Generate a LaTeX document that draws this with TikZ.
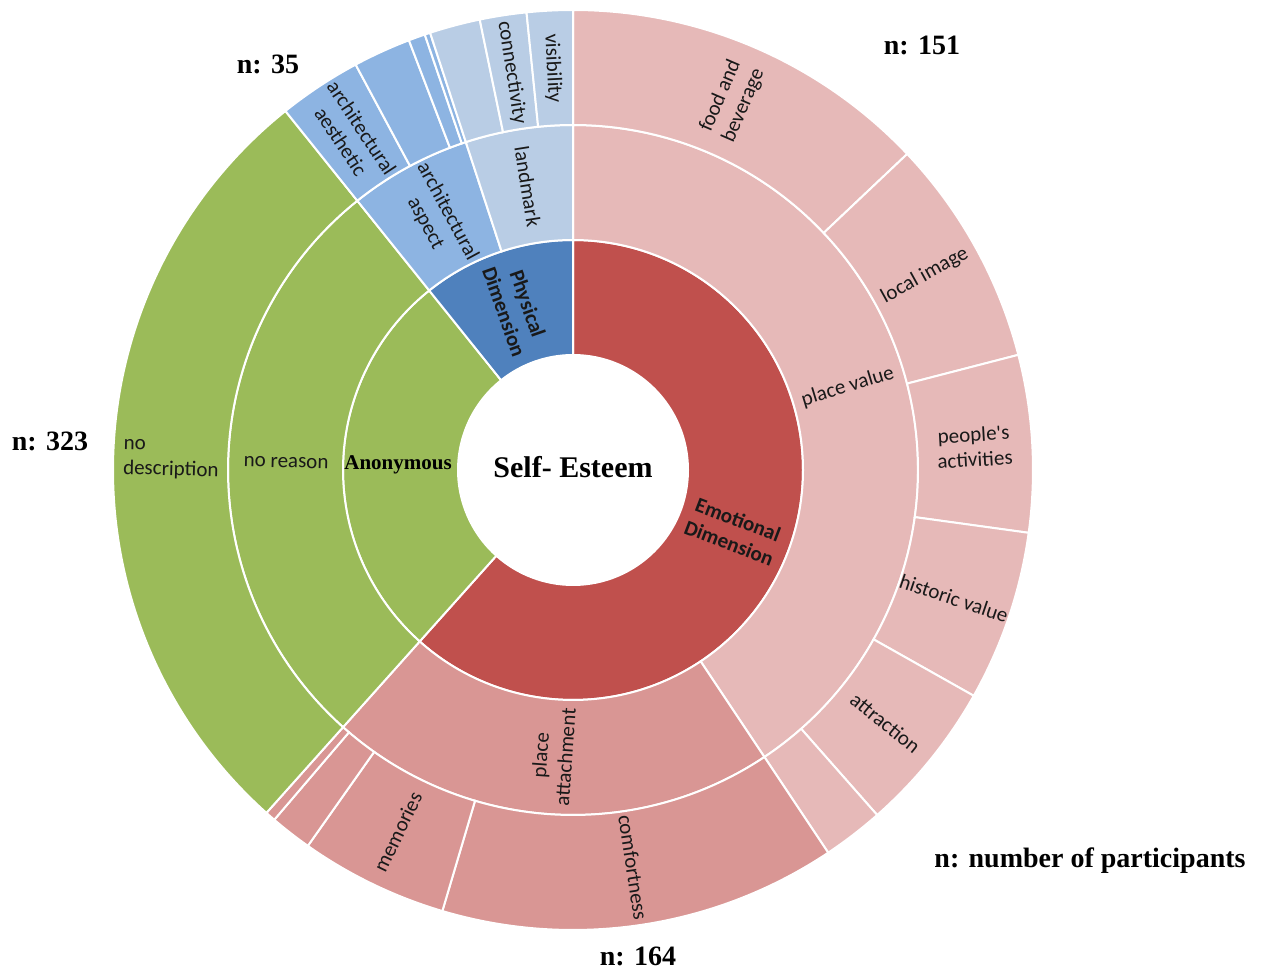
\documentclass[tikz,border=0pt]{standalone}
\usepackage{fontspec}
\setmainfont{Liberation Serif}
\newfontfamily\calibri{Carlito}

\definecolor{emo}{HTML}{C0504D}
\definecolor{pval}{HTML}{E6B9B8}
\definecolor{patt}{HTML}{D99694}
\definecolor{anon}{HTML}{9BBB59}
\definecolor{phys}{HTML}{4F81BD}
\definecolor{arch}{HTML}{8DB4E2}
\definecolor{lmark}{HTML}{B9CDE5}

% ring segment: start angle, end angle, inner radius, outer radius, colour
\newcommand\sunseg[5]{%
  \fill[#5, draw=white, line width=2pt]
    (#1:#3) arc[start angle=#1, end angle=#2, radius=#3]
    -- (#2:#4) arc[start angle=#2, end angle=#1, radius=#4] -- cycle;}

\tikzset{
  seglabel/.style={font=\calibri\fontsize{21}{25}\selectfont, align=center, inner sep=0pt, text=black!90},
  segbold/.style={seglabel, font=\calibri\bfseries\fontsize{21}{25}\selectfont},
  countlabel/.style={font=\bfseries\fontsize{28}{32}\selectfont, inner sep=0pt},
}

\begin{document}
\begin{tikzpicture}[x=1pt,y=1pt]
\useasboundingbox (0,0) rectangle (1269,970);
\fill[white] (0,0) rectangle (1269,970);

\begin{scope}[shift={(573,500)}]
% inner ring: dimensions
\sunseg{90}{-131.8}{115pt}{230pt}{emo}
\sunseg{128.7}{228.2}{115pt}{230pt}{anon}
\sunseg{90}{128.7}{115pt}{230pt}{phys}
% middle ring
\sunseg{90}{-56.3}{230pt}{345pt}{pval}
\sunseg{-56.3}{-131.8}{230pt}{345pt}{patt}
\sunseg{128.7}{228.2}{230pt}{345pt}{anon}
\sunseg{108.1}{128.7}{230pt}{345pt}{arch}
\sunseg{90}{108.1}{230pt}{345pt}{lmark}
% outer ring: place value
\sunseg{90}{43.4}{345pt}{460pt}{pval}
\sunseg{43.4}{14.5}{345pt}{460pt}{pval}
\sunseg{14.5}{-7.85}{345pt}{460pt}{pval}
\sunseg{-7.85}{-29.4}{345pt}{460pt}{pval}
\sunseg{-29.4}{-48.6}{345pt}{460pt}{pval}
\sunseg{-48.6}{-56.3}{345pt}{460pt}{pval}
% outer ring: place attachment
\sunseg{-56.3}{-106.5}{345pt}{460pt}{patt}
\sunseg{-106.5}{-125.2}{345pt}{460pt}{patt}
\sunseg{-125.2}{-130.5}{345pt}{460pt}{patt}
\sunseg{-130.5}{-131.8}{345pt}{460pt}{patt}
% outer ring: anonymous
\sunseg{128.7}{228.2}{345pt}{460pt}{anon}
% outer ring: architectural aspect
\sunseg{128.7}{118.2}{345pt}{460pt}{arch}
\sunseg{118.2}{110.9}{345pt}{460pt}{arch}
\sunseg{110.9}{108.8}{345pt}{460pt}{arch}
\sunseg{108.8}{108.1}{345pt}{460pt}{arch}
% outer ring: landmark
\sunseg{108.1}{101.7}{345pt}{460pt}{lmark}
\sunseg{101.7}{95.8}{345pt}{460pt}{lmark}
\sunseg{95.8}{90}{345pt}{460pt}{lmark}

% centre title
\node[font=\bfseries\fontsize{30}{34}\selectfont, inner sep=0pt] (title) at (0,3) {Self- Esteem};

% inner ring labels
\node[segbold, rotate=-20.9] (emolab) at (-20.9:172pt) {Emotional\\Dimension};
\node[segbold, rotate=-70.65] (physlab) at (109.35:172pt) {Physical\\Dimension};
\node[font=\bfseries\fontsize{21}{24}\selectfont, inner sep=0pt] (anonlab) at (178.45:175pt) {Anonymous};

% middle ring labels
\node[seglabel, rotate=16.85] (pvlab) at (16.85:287pt) {place value};
\node[seglabel, rotate=85.95] (palab) at (-94.05:287pt) {place\\attachment};
\node[seglabel, rotate=-1.5] (nrlab) at (178.5:287pt) {no reason};
\node[seglabel, rotate=-61.6] (aalab) at (118.4:287pt) {architectural\\aspect};
\node[seglabel, rotate=-80.95] (lmlab) at (99.05:287pt) {landmark};

% outer ring labels
\node[seglabel, rotate=66.7] (fblab) at (66.7:402pt) {food and\\beverage};
\node[seglabel, rotate=28.95] (lilab) at (28.95:402pt) {local image};
\node[seglabel, rotate=3.3] (palab2) at (3.3:402pt) {people's\\activities};
\node[seglabel, rotate=-18.6] (hvlab) at (-18.6:402pt) {historic value};
\node[seglabel, rotate=-39] (atlab) at (-39:402pt) {attraction};
\node[seglabel, rotate=-81.4] (cflab) at (-81.4:402pt) {comfortness};
\node[seglabel, rotate=64.15] (memlab) at (-115.85:402pt) {memories};
\node[seglabel, align=left, rotate=-1.5] (ndlab) at (178.5:402pt) {no\\description};
\node[seglabel, rotate=-56.55] (aelab) at (123.45:402pt) {architectural\\aesthetic};
\node[seglabel, rotate=-81.25] (cnlab) at (98.75:402pt) {connectivity};
\node[seglabel, rotate=-87.1] (vilab) at (92.9:402pt) {visibility};
\end{scope}

% participant counts
\node[countlabel] (n151) at (922,925) {n: 151};
\node[countlabel] (n35) at (268,906) {n: 35};
\node[countlabel] (n323) at (50,529) {n: 323};
\node[countlabel] (n164) at (638,14) {n: 164};
\node[countlabel] (nkey) at (1090,109) {n: number of participants};
\end{tikzpicture}
\end{document}
